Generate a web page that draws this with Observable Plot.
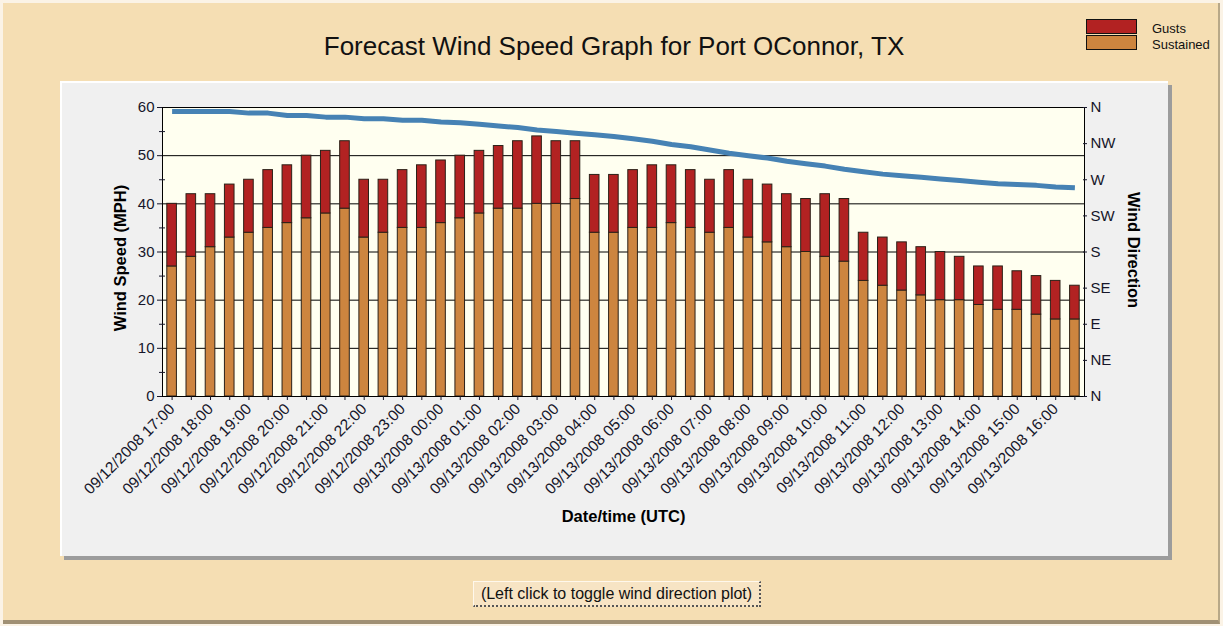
<!DOCTYPE html>
<html>
<head>
<meta charset="utf-8">
<script src="https://cdn.jsdelivr.net/npm/d3@7"></script>
<script src="https://cdn.jsdelivr.net/npm/@observablehq/plot@0.6"></script>
<style>
  html, body { margin: 0; padding: 0; }
  body { width: 1223px; height: 626px; background: #FBF3E6; position: relative; overflow: hidden;
         font-family: "Liberation Sans", Arial, sans-serif; }
  #outer { position: absolute; left: 3px; top: 3px; width: 1215px; height: 617px; background: #F5DEB3;
           border-right: 2px solid #B8A888; border-bottom: 4px solid #A09074; }
  #title { position: absolute; left: 0; top: 33px; width: 1228px; text-align: center; font-size: 26px;
           line-height: 26px; color: #111; }
  .sw { position: absolute; left: 1086px; width: 49px; height: 13px; border: 1px solid #111; }
  .lg { position: absolute; left: 1152px; font-size: 13px; line-height: 13px; color: #111; }
  #panel { position: absolute; left: 60px; top: 81px; width: 1106px; height: 473px; background: #F0F0F0;
           border-top: 2px solid #fff; border-left: 2px solid #fff; box-shadow: 4px 4px 0 #9C9C9C; }
  #panel svg { display: block; }
  #btn { position: absolute; left: 473px; top: 581px; width: 285px; height: 23px; background: #F7E4C4;
         border-top: 1px solid #FFF8EC; border-left: 1px solid #FFF8EC; border-right: 2px dotted #555;
         border-bottom: 2px dotted #555; font-size: 16px; line-height: 23px; text-align: center; color: #111; }
</style>
</head>
<body>
<div id="outer"></div>
<div id="title">Forecast Wind Speed Graph for Port OConnor, TX</div>
<div class="sw" style="top:19px;background:#B22222"></div>
<div class="sw" style="top:35px;background:#CD853F"></div>
<div class="lg" style="top:22px">Gusts</div>
<div class="lg" style="top:38px">Sustained</div>
<div id="panel"></div>
<div id="btn">(Left click to toggle wind direction plot)</div>
<script>
const times = [
  "09/12/2008 17:00","09/12/2008 17:30","09/12/2008 18:00","09/12/2008 18:30",
  "09/12/2008 19:00","09/12/2008 19:30","09/12/2008 20:00","09/12/2008 20:30",
  "09/12/2008 21:00","09/12/2008 21:30","09/12/2008 22:00","09/12/2008 22:30",
  "09/12/2008 23:00","09/12/2008 23:30","09/13/2008 00:00","09/13/2008 00:30",
  "09/13/2008 01:00","09/13/2008 01:30","09/13/2008 02:00","09/13/2008 02:30",
  "09/13/2008 03:00","09/13/2008 03:30","09/13/2008 04:00","09/13/2008 04:30",
  "09/13/2008 05:00","09/13/2008 05:30","09/13/2008 06:00","09/13/2008 06:30",
  "09/13/2008 07:00","09/13/2008 07:30","09/13/2008 08:00","09/13/2008 08:30",
  "09/13/2008 09:00","09/13/2008 09:30","09/13/2008 10:00","09/13/2008 10:30",
  "09/13/2008 11:00","09/13/2008 11:30","09/13/2008 12:00","09/13/2008 12:30",
  "09/13/2008 13:00","09/13/2008 13:30","09/13/2008 14:00","09/13/2008 14:30",
  "09/13/2008 15:00","09/13/2008 15:30","09/13/2008 16:00","09/13/2008 16:30"
];
const sustained = [27,29,31,33,34,35,36,37,38,39, 33,34,35,35,36,37,38, 39,39,40,40,41,
  34,34,35,35,36,35,34,35,33,32,31, 30,29,28,24,23,22,21,20,20,19,18,18,17,16,16];
const gusts = [40,42,42,44,45,47,48,50,51,53, 45,45,47,48,49,50,51, 52,53,54,53,53,
  46,46,47,48,48,47,45,47,45,44,42, 41,42,41,34,33,32,31,30,29,27,27,26,25,24,23];
const direction = [355,355,355,355,353,353,350,350,348,348,346,346,344,344,342,341,
  339,337,335,332,330,328,326,324,321,318,314,311,307,303,300,297,
  293,290,287,283,280,277,275,273,271,269,267,265,264,263,261,260];
const speedTicks = [0,10,20,30,40,50,60];
const minorTicks = [5,15,25,35,45,55];
const dirTicks = [0,45,90,135,180,225,270,315,360];
const dirLabels = ["N","NE","E","SE","S","SW","W","NW","N"];

const data = times.map((t, i) => ({time: t, sustained: sustained[i], gust: gusts[i], dir: direction[i]}));
const barStyle = {stroke: "#2b2118", strokeWidth: 1, insetLeft: 4.8, insetRight: 4.8};

const chart = Plot.plot({
  width: 1106, height: 473,
  marginLeft: 100, marginRight: 84, marginTop: 24, marginBottom: 160,
  style: {fontFamily: "'Liberation Sans', Arial, sans-serif", fontSize: "15px", color: "#16162a", background: "transparent", overflow: "visible"},
  x: {type: "band", domain: times, padding: 0, round: false},
  y: {domain: [0, 60]},
  marks: [
    Plot.frame({fill: "#FFFFF0"}),
    Plot.gridY({ticks: [10,20,30,40,50], stroke: "#000", strokeOpacity: 1, strokeWidth: 1}),
    Plot.barY(data, {x: "time", y: "sustained", fill: "#CD853F", ...barStyle}),
    Plot.barY(data, {x: "time", y1: "sustained", y2: "gust", fill: "#B22222", ...barStyle}),
    Plot.line(data, {x: "time", y: d => d.dir / 6, stroke: "#4682B4", strokeWidth: 5, strokeLinecap: "butt"}),
    Plot.frame({stroke: "#000", strokeWidth: 1}),
    Plot.axisY({ticks: speedTicks, tickSize: 5, tickPadding: 3, label: null, fontSize: 15}),
    Plot.axisY({ticks: minorTicks, tickSize: 6, dx: 3, tickFormat: () => "", label: null}),
    Plot.axisY({anchor: "right", ticks: dirTicks.map(d => d / 6), tickSize: 4, dx: -2, tickPadding: 4,
      tickFormat: d => dirLabels[dirTicks.indexOf(Math.round(d * 6))], label: null, fontSize: 15}),
    Plot.axisX({tickSize: 4, tickFormat: () => "", label: null}),
    Plot.axisX({ticks: times.filter((t, i) => i % 2 === 0), tickSize: 0, tickRotate: -45, tickPadding: 10, label: null, fontSize: 15.5}),
    Plot.text(["Wind Speed (MPH)"], {frameAnchor: "left", textAnchor: "middle", dx: -42, dy: 6, rotate: -90, fontWeight: "bold", fontSize: 16.5, fill: "#000"}),
    Plot.text(["Wind Direction"], {frameAnchor: "right", textAnchor: "middle", dx: 49, dy: -2, rotate: 90, fontWeight: "bold", fontSize: 16.5, fill: "#000"}),
    Plot.text(["Date/time (UTC)"], {frameAnchor: "bottom", textAnchor: "middle", dy: 125, fontWeight: "bold", fontSize: 16.5, fill: "#000"})
  ]
});
document.getElementById("panel").appendChild(chart);
</script>
</body>
</html>
